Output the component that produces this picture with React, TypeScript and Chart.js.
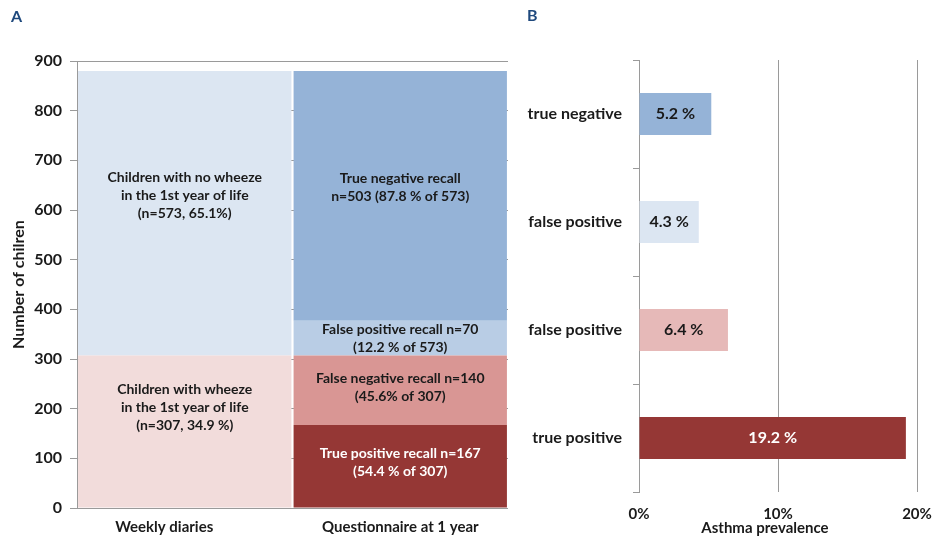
import React, { useEffect, useRef } from "react";
import { Chart, registerables } from "chart.js";

Chart.register(...registerables);

const FONT = "Lato, 'Open Sans', 'DejaVu Sans', sans-serif";
const TEXT = "#1a1a1a";
const AXIS = "#9a9a9a";

// ---- Panel A data ----
const categories = ["Weekly diaries", "Questionnaire at 1 year"];
const segmentNames = [
  "Children with wheeze",
  "Children with no wheeze",
  "True positive recall",
  "False negative recall",
  "False positive recall",
  "True negative recall",
];
const segmentBar = [0, 0, 1, 1, 1, 1];
const segmentCounts = [307, 573, 167, 140, 70, 503];
const segmentColors = ["#F2DCDB", "#DCE6F2", "#953735", "#D99694", "#B9CDE5", "#95B3D7"];
const segmentTextColors = [TEXT, TEXT, "#ffffff", TEXT, TEXT, TEXT];
const segmentLabels = [
  ["Children with wheeze", "in the 1st year of life", "(n=307, 34.9 %)"],
  ["Children with no wheeze", "in the 1st year of life", "(n=573, 65.1%)"],
  ["True positive recall n=167", "(54.4 % of 307)"],
  ["False negative recall n=140", "(45.6% of 307)"],
  ["False positive recall n=70", "(12.2 % of 573)"],
  ["True negative recall", "n=503 (87.8 % of 573)"],
];
const countAxisMax = 900;
const countAxisStep = 100;

// ---- Panel B data ----
const prevalenceCategories = ["true negative", "false positive", "false positive", "true positive"];
const prevalenceValues = [5.2, 4.3, 6.4, 19.2];
const prevalenceColors = ["#95B3D7", "#DCE6F2", "#E6B9B8", "#953735"];
const prevalenceTextColors = [TEXT, TEXT, TEXT, "#ffffff"];
const prevalenceAxisMax = 20;
const prevalenceAxisStep = 10;

// trailing spaces shift a centred label to the left, as in the reference
const PAD = "\u2003\u2003\u2003  ";

const segmentLabelPlugin = {
  id: "segmentLabels",
  afterDatasetsDraw(chart: any, _args: any, opts: any) {
    const ctx = chart.ctx;
    ctx.save();
    ctx.font = `bold ${opts.fontSize}px ${FONT}`;
    ctx.textAlign = "center";
    ctx.textBaseline = "middle";
    chart.data.datasets.forEach((_ds: any, i: number) => {
      const meta = chart.getDatasetMeta(i);
      const el = meta.data[segmentBar[i]];
      if (!el) return;
      const p = el.getProps(["x", "y", "base"], true);
      const lines = segmentLabels[i];
      const cy = (p.y + p.base) / 2 + opts.offsets[i];
      const lh = opts.lineHeight;
      const start = cy - ((lines.length - 1) * lh) / 2;
      ctx.fillStyle = segmentTextColors[i];
      lines.forEach((t, k) => ctx.fillText(t, p.x, start + k * lh));
    });
    ctx.restore();
  },
};

const prevalenceLabelPlugin = {
  id: "prevalenceLabels",
  afterDatasetsDraw(chart: any, _args: any, opts: any) {
    const ctx = chart.ctx;
    ctx.save();
    ctx.font = `bold ${opts.fontSize}px ${FONT}`;
    ctx.textAlign = "center";
    ctx.textBaseline = "middle";
    const meta = chart.getDatasetMeta(0);
    meta.data.forEach((el: any, i: number) => {
      const p = el.getProps(["x", "y", "base"], true);
      ctx.fillStyle = prevalenceTextColors[i];
      ctx.fillText(`${prevalenceValues[i]} %`, (p.x + p.base) / 2, p.y);
    });
    ctx.restore();
  },
};

function PanelA() {
  const ref = useRef<HTMLCanvasElement>(null);
  useEffect(() => {
    if (!ref.current) return;
    const chart = new Chart(ref.current, {
      type: "bar",
      data: {
        labels: categories,
        datasets: segmentNames.map((name, i) => ({
          label: name,
          data: categories.map((_c, k) => (k === segmentBar[i] ? segmentCounts[i] : null)),
          backgroundColor: segmentColors[i],
          borderWidth: 0,
          stack: "s",
          categoryPercentage: 0.99,
          barPercentage: 1,
        })),
      },
      options: {
        responsive: false,
        animation: false,
        devicePixelRatio: 1,
        layout: { padding: { top: 61, right: 12, bottom: 0, left: 0 } },
        plugins: {
          legend: { display: false },
          tooltip: { enabled: false },
          segmentLabels: { fontSize: 14, lineHeight: 18, offsets: [-24, -18, -4, -3, 0, -8] },
        } as any,
        scales: {
          x: {
            stacked: true,
            grid: { display: false, drawTicks: false },
            border: { display: false },
            ticks: {
              color: TEXT,
              font: { family: FONT, size: 15, weight: "bold" },
              padding: 10,
              callback: (_v: any, i: number) => (i === 0 ? categories[i] + PAD : categories[i]),
            },
            afterFit: (s: any) => { s.height = 35; },
          },
          y: {
            stacked: true,
            min: 0,
            max: countAxisMax,
            ticks: { stepSize: countAxisStep, color: TEXT, font: { family: FONT, size: 16, weight: "bold" }, padding: 8 },
            grid: { color: AXIS, tickLength: 7 },
            border: { color: AXIS },
            title: {
              display: true,
              text: "Number of chilren",
              color: TEXT,
              font: { family: FONT, size: 16, weight: "bold", lineHeight: 1.2 },
              padding: { top: 9, bottom: 0 },
            },
            afterFit: (s: any) => { s.width = 77; },
          },
        },
      },
      plugins: [segmentLabelPlugin],
    });
    return () => chart.destroy();
  }, []);
  return <canvas ref={ref} width={520} height={543} style={{ position: "absolute", left: 0, top: 0 }} />;
}

function PanelB() {
  const ref = useRef<HTMLCanvasElement>(null);
  useEffect(() => {
    if (!ref.current) return;
    const chart = new Chart(ref.current, {
      type: "bar",
      data: {
        labels: prevalenceCategories,
        datasets: [
          {
            label: "Asthma prevalence",
            data: prevalenceValues,
            backgroundColor: prevalenceColors,
            borderWidth: 0,
            categoryPercentage: 1,
            barPercentage: 0.39,
          },
        ],
      },
      options: {
        indexAxis: "y",
        responsive: false,
        animation: false,
        devicePixelRatio: 1,
        layout: { padding: { top: 60, right: 16, bottom: 0, left: 0 } },
        plugins: {
          legend: { display: false },
          tooltip: { enabled: false },
          prevalenceLabels: { fontSize: 16 },
        } as any,
        scales: {
          x: {
            min: 0,
            max: prevalenceAxisMax,
            ticks: {
              stepSize: prevalenceAxisStep,
              color: TEXT,
              font: { family: FONT, size: 15, weight: "bold" },
              padding: 0,
              callback: (v: any) => `${v}%`,
            },
            grid: { color: AXIS, drawTicks: true, tickLength: 13, tickColor: "rgba(0,0,0,0)" },
            border: { display: false },
            title: {
              display: true,
              text: "Asthma prevalence" + "\u2003\u2003 ",
              color: TEXT,
              font: { family: FONT, size: 15, weight: "bold", lineHeight: 1.2 },
              padding: { top: 0, bottom: 6 },
            },
            afterFit: (s: any) => { s.height = 51; },
          },
          y: {
            ticks: { color: TEXT, font: { family: FONT, size: 16, weight: "bold" }, padding: 11 },
            grid: { offset: true, drawOnChartArea: false, color: AXIS, tickLength: 6 },
            border: { color: AXIS },
            afterFit: (s: any) => { s.width = 119; },
          },
        },
      },
      plugins: [prevalenceLabelPlugin],
    });
    return () => chart.destroy();
  }, []);
  return <canvas ref={ref} width={413} height={543} style={{ position: "absolute", left: 520, top: 0 }} />;
}

const letterStyle: React.CSSProperties = {
  position: "absolute",
  fontFamily: FONT,
  fontWeight: "bold",
  fontSize: 16,
  lineHeight: "18px",
  color: "#1F497D",
};

export default function App() {
  return (
    <div style={{ position: "fixed", left: 0, top: 0, width: 933, height: 543, background: "#fff", overflow: "hidden" }}>
      <PanelA />
      <PanelB />
      <div style={{ ...letterStyle, left: 11, top: 7 }}>A</div>
      <div style={{ ...letterStyle, left: 527, top: 6 }}>B</div>
    </div>
  );
}
